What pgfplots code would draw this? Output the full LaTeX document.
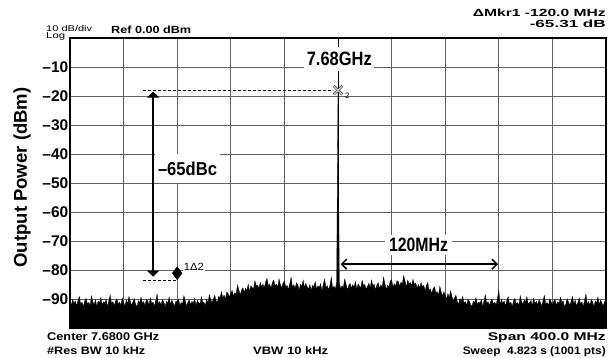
\documentclass[border=0pt]{standalone}
\usepackage{fontspec}
\setmainfont{Liberation Sans}
\usepackage{graphicx}
\usepackage{pgfplots}
\pgfplotsset{compat=1.18}
\usetikzlibrary{arrows.meta}
\begin{document}
\begin{tikzpicture}
\path[use as bounding box] (-70pt,-30pt) rectangle (546pt,328pt);
\begin{axis}[
  at={(0,0)}, anchor=south west,
  scale only axis, width=536pt, height=290pt,
  xmin=-200, xmax=200, ymin=-100, ymax=0,
  xtick={-160,-120,-80,-40,0,40,80,120,160}, xticklabels={},
  ytick={-90,-80,-70,-60,-50,-40,-30,-20,-10},
  yticklabels={\textendash90,\textendash80,\textendash70,\textendash60,\textendash50,\textendash40,\textendash30,\textendash20,\textendash10},
  yticklabel style={font=\fontsize{15.5}{16}\selectfont\bfseries, inner sep=1.5pt},
  major tick length=0pt,
  grid=major, grid style={black!62, line width=0.9pt},
  axis line style={line width=1.5pt},
  clip=false,
]
\addplot[fill=black, draw=black, line width=0.3pt] coordinates {
(-200,-100)
(-200,-91.0)(-199,-92.1)(-198,-90.1)(-197,-91.5)(-196,-90.7)(-195,-92.4)(-194,-90.4)(-193,-89.2)(-192,-91.8)(-191,-91.1)
(-190,-92.6)(-189,-90.6)(-188,-89.8)(-187,-91.7)(-186,-91.2)(-185,-92.2)(-184,-88.9)(-183,-90.9)(-182,-91.9)(-181,-90.3)
(-180,-92.5)(-179,-90.8)(-178,-91.3)(-177,-89.5)(-176,-92.0)(-175,-91.0)(-174,-91.5)(-173,-90.2)(-172,-92.7)(-171,-90.5)
(-170,-88.6)(-169,-91.6)(-168,-90.9)(-167,-92.3)(-166,-90.7)(-165,-90.0)(-164,-91.8)(-163,-91.1)(-162,-92.1)(-161,-89.7)
(-160,-91.2)(-159,-92.4)(-158,-90.4)(-157,-91.7)(-156,-89.1)(-155,-90.8)(-154,-92.2)(-153,-91.0)(-152,-89.9)(-151,-91.9)
(-150,-92.6)(-149,-90.6)(-148,-91.3)(-147,-89.4)(-146,-91.5)(-145,-90.9)(-144,-92.3)(-143,-90.1)(-142,-90.7)(-141,-92.0)
(-140,-89.6)(-139,-91.6)(-138,-91.1)(-137,-92.5)(-136,-90.5)(-135,-88.3)(-134,-91.8)(-133,-90.9)(-132,-92.1)(-131,-90.2)
(-130,-91.0)(-129,-92.7)(-128,-90.7)(-127,-91.4)(-126,-89.3)(-125,-91.9)(-124,-90.4)(-123,-91.5)(-122,-92.4)(-121,-90.8)
(-120,-90.9)(-119,-90.0)(-118,-92.2)(-117,-91.2)(-116,-91.7)(-115,-88.8)(-114,-90.6)(-113,-92.5)(-112,-91.1)(-111,-90.3)
(-110,-92.0)(-109,-90.8)(-108,-91.6)(-107,-89.7)(-106,-92.3)(-105,-90.5)(-104,-91.3)(-103,-91.8)(-102,-89.2)(-101,-91.0)
(-100,-91.2)(-99,-92.3)(-98,-90.1)(-97,-91.3)(-96,-88.5)(-95,-90.1)(-94,-91.3)(-93,-90.0)(-92,-88.7)(-91,-90.6)
(-90,-91.2)(-89,-89.0)(-88,-89.6)(-87,-87.5)(-86,-89.5)(-85,-88.7)(-84,-90.0)(-83,-87.6)(-82,-88.1)(-81,-89.3)
(-80,-88.0)(-79,-87.0)(-78,-89.0)(-77,-87.9)(-76,-88.2)(-75,-85.2)(-74,-86.8)(-73,-88.6)(-72,-87.0)(-71,-86.1)
(-70,-87.7)(-69,-86.3)(-68,-87.0)(-67,-84.9)(-66,-87.4)(-65,-85.4)(-64,-86.1)(-63,-86.4)(-62,-83.7)(-61,-85.4)
(-60,-85.2)(-59,-86.3)(-58,-84.3)(-57,-85.7)(-56,-84.9)(-55,-86.1)(-54,-84.1)(-53,-82.9)(-52,-85.5)(-51,-84.8)
(-50,-86.3)(-49,-84.3)(-48,-83.5)(-47,-85.4)(-46,-84.9)(-45,-85.9)(-44,-83.1)(-43,-85.1)(-42,-86.1)(-41,-84.5)
(-40,-83.8)(-39,-85.8)(-38,-85.3)(-37,-86.7)(-36,-84.7)(-35,-82.5)(-34,-86.0)(-33,-85.1)(-32,-86.3)(-31,-84.4)
(-30,-85.2)(-29,-86.9)(-28,-84.9)(-27,-85.6)(-26,-83.5)(-25,-86.1)(-24,-84.6)(-23,-85.7)(-22,-86.6)(-21,-85.0)
(-20,-87.0)(-19,-85.3)(-18,-85.8)(-17,-84.0)(-16,-86.5)(-15,-85.5)(-14,-86.0)(-13,-84.7)(-12,-87.2)(-11,-85.0)
(-10,-83.1)(-9,-86.1)(-8,-85.4)(-7,-86.8)(-6,-85.2)(-5,-82.5)(-4,-86.3)(-3,-85.6)(-2,-86.6)(-1,-84.2)
(0,-18.2)(1,-84.3)(2,-86.5)(3,-85.5)(4,-86.0)(5,-83.1)(6,-84.9)(7,-86.8)(8,-85.4)(9,-84.6)
(10,-86.3)(11,-85.1)(12,-85.9)(13,-84.0)(14,-86.6)(15,-84.8)(16,-85.6)(17,-86.1)(18,-83.5)(19,-85.3)
(20,-85.0)(21,-86.6)(22,-85.7)(23,-84.6)(24,-86.1)(25,-83.5)(26,-85.6)(27,-84.9)(28,-86.9)(29,-85.2)
(30,-84.4)(31,-86.3)(32,-85.1)(33,-86.0)(34,-82.5)(35,-84.7)(36,-86.7)(37,-85.3)(38,-85.8)(39,-83.8)
(40,-83.4)(41,-85.8)(42,-84.8)(43,-85.5)(44,-83.7)(45,-84.0)(46,-85.6)(47,-84.2)(48,-84.9)(49,-81.9)
(50,-83.8)(51,-86.0)(52,-83.5)(53,-84.8)(54,-84.3)(55,-85.3)(56,-83.2)(57,-85.0)(58,-84.5)(59,-86.2)
(60,-85.0)(61,-86.2)(62,-84.3)(63,-85.9)(64,-85.3)(65,-87.1)(66,-85.3)(67,-84.3)(68,-87.1)(69,-86.5)
(70,-88.2)(71,-86.4)(72,-85.8)(73,-87.8)(74,-87.5)(75,-88.7)(76,-85.6)(77,-87.7)(78,-88.9)(79,-87.5)
(80,-88.6)(81,-90.0)(82,-88.1)(83,-89.6)(84,-87.2)(85,-89.1)(86,-90.6)(87,-89.6)(88,-88.7)(89,-90.9)
(90,-91.7)(91,-89.9)(92,-90.8)(93,-89.1)(94,-91.3)(95,-90.9)(96,-92.3)(97,-90.1)(98,-90.7)(99,-92.0)
(100,-92.5)(101,-90.8)(102,-91.3)(103,-89.5)(104,-92.0)(105,-91.0)(106,-91.5)(107,-90.2)(108,-92.7)(109,-90.5)
(110,-88.6)(111,-91.6)(112,-90.9)(113,-92.3)(114,-90.7)(115,-90.0)(116,-91.8)(117,-91.1)(118,-92.1)(119,-89.7)
(120,-87.0)(121,-92.1)(122,-90.1)(123,-91.5)(124,-90.7)(125,-92.4)(126,-90.4)(127,-89.2)(128,-91.8)(129,-91.1)
(130,-92.6)(131,-90.6)(132,-89.8)(133,-91.7)(134,-91.2)(135,-92.2)(136,-88.9)(137,-90.9)(138,-91.9)(139,-90.3)
(140,-91.0)(141,-89.2)(142,-91.8)(143,-91.3)(144,-90.5)(145,-92.3)(146,-89.7)(147,-91.6)(148,-90.8)(149,-92.0)
(150,-90.3)(151,-91.1)(152,-92.5)(153,-90.6)(154,-88.8)(155,-91.7)(156,-91.2)(157,-92.2)(158,-90.0)(159,-90.9)
(160,-92.0)(161,-90.7)(162,-90.1)(163,-92.3)(164,-90.9)(165,-91.5)(166,-89.4)(167,-91.3)(168,-90.6)(169,-92.6)
(170,-91.9)(171,-89.9)(172,-91.0)(173,-92.2)(174,-90.8)(175,-89.1)(176,-91.7)(177,-90.4)(178,-92.4)(179,-91.2)
(180,-89.6)(181,-91.6)(182,-91.1)(183,-92.5)(184,-90.5)(185,-88.3)(186,-91.8)(187,-90.9)(188,-92.1)(189,-90.2)
(190,-91.0)(191,-92.7)(192,-90.7)(193,-91.4)(194,-89.3)(195,-91.9)(196,-90.4)(197,-91.5)(198,-92.4)(199,-90.8)
(200,-91.1)
(200,-100)
};
% marker 1 (diamond) and marker 2 (cross)
\addplot[only marks, mark=diamond*, mark size=6.5pt, black] coordinates {(-120,-81.1)};
\addplot[only marks, mark=x, mark size=6pt, draw=black!80, line width=2.4pt] coordinates {(0,-18)};
\addplot[only marks, mark=x, mark size=6pt, draw=black!20, line width=1.2pt] coordinates {(0,-18)};
% carrier marker line
\draw[line width=0.9pt] (axis cs:0,-100) -- (axis cs:0,0);
% dashed reference lines
\draw[line width=1.3pt, dash pattern=on 3pt off 2pt] (axis cs:-145.5,-18) -- (axis cs:-3.7,-18);
\draw[line width=1.3pt, dash pattern=on 3pt off 2pt] (axis cs:-145.5,-83.7) -- (axis cs:-121,-83.7);
% arrows
\draw[line width=1.6pt, {Triangle[width=12pt,length=6pt]}-{Triangle[width=12pt,length=6pt]}] (axis cs:-138,-18.5) -- (axis cs:-138,-82.3);
\draw[line width=1.5pt, {Straight Barb[length=5pt,width=10pt]}-{Straight Barb[length=5pt,width=10pt]}] (axis cs:2,-78) -- (axis cs:119.4,-78);
% labels
\node[fill=white, inner xsep=2.5pt, inner ysep=5pt] at (axis cs:1,-7.2) {\resizebox{65pt}{13.5pt}{\bfseries 7.68GHz}};
\node[fill=white, inner xsep=3pt, inner ysep=8pt] at (axis cs:-112.3,-45) {\resizebox{59pt}{13.5pt}{\bfseries \textendash 65dBc}};
\node[fill=white, inner xsep=4pt, inner ysep=3pt] at (axis cs:60.1,-71.4) {\resizebox{59pt}{13.5pt}{\bfseries 120MHz}};
\node[fill=white, anchor=west, inner sep=1pt] at (axis cs:-116,-79) {\resizebox{20pt}{7.3pt}{1Δ2}};
\node[inner sep=0pt] at (axis cs:7,-19.8) {\resizebox{!}{5.5pt}{2}};
\node[rotate=90] at (rel axis cs:-0.0896,0.519) {\fontsize{18.5}{20}\selectfont\bfseries Output Power (dBm)};
\end{axis}
% analyzer annotations
\node[anchor=base west, inner sep=0pt] at (-24pt,296.5pt) {\resizebox{46pt}{6pt}{10 dB/div}};
\node[anchor=base west, inner sep=0pt] at (-24pt,289pt) {\resizebox{19pt}{5.8pt}{Log}};
\node[anchor=base west, inner sep=0pt] at (41pt,294pt) {\resizebox{80pt}{7.5pt}{\bfseries Ref 0.00 dBm}};
\node[anchor=base east, inner sep=0pt] at (536pt,311pt) {\resizebox{133pt}{7.5pt}{\bfseries ΔMkr1 -120.0 MHz}};
\node[anchor=base east, inner sep=0pt] at (536pt,300.5pt) {\resizebox{76pt}{7.5pt}{\bfseries -65.31 dB}};
\node[anchor=base west, inner sep=0pt] at (-23pt,-13pt) {\resizebox{112pt}{7.8pt}{\bfseries Center 7.6800 GHz}};
\node[anchor=base west, inner sep=0pt] at (-23pt,-27pt) {\resizebox{98pt}{7.8pt}{\bfseries \#Res BW 10 kHz}};
\node[anchor=base west, inner sep=0pt] at (183pt,-27pt) {\resizebox{75pt}{7.8pt}{\bfseries VBW 10 kHz}};
\node[anchor=base east, inner sep=0pt] at (536pt,-13pt) {\resizebox{118pt}{7.8pt}{\bfseries Span 400.0 MHz}};
\node[anchor=base east, inner sep=0pt] at (536pt,-27pt) {\resizebox{143pt}{7.8pt}{\bfseries Sweep\ \ 4.823 s (1001 pts)}};
\end{tikzpicture}
\end{document}
